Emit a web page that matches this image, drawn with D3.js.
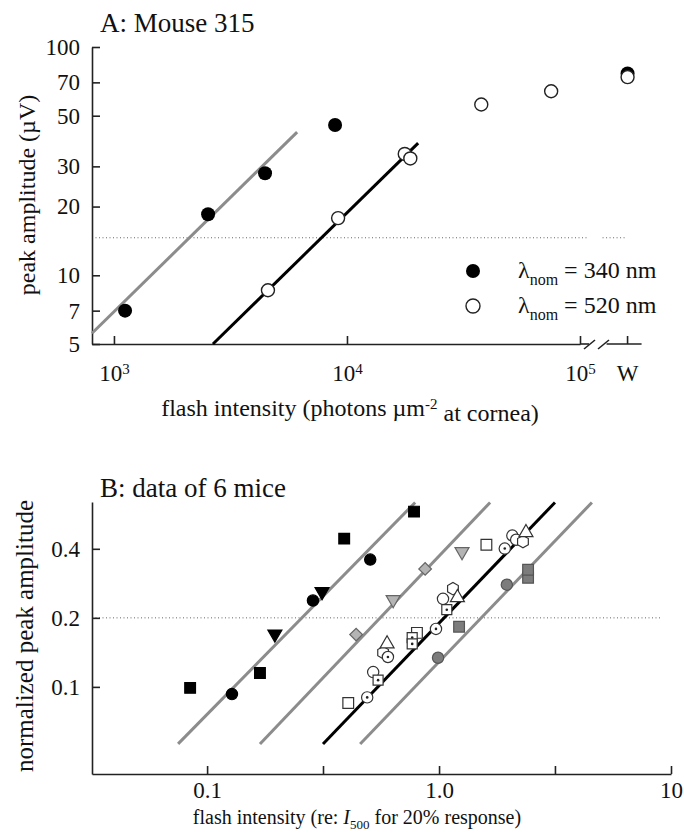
<!DOCTYPE html>
<html><head><meta charset="utf-8">
<script src="https://cdn.jsdelivr.net/npm/d3@7/dist/d3.min.js"></script>
<style>
body { margin: 0; background: #fff; }
svg text { font-family: "Liberation Serif", "Times New Roman", serif; fill: #111; }
</style></head>
<body>
<div id="chart"></div>
<script>
// ---- panel A: Mouse 315 ----
const aYTicks = [5, 7, 10, 20, 30, 50, 70, 100];
const aXTicks = [1e3, 1e4, 1e5];
const aXLabels = ['3', '4', '5'];           // exponents of 10
const uv340 = [[1116, 7.0], [2535, 18.5], [4450, 28.0], [8890, 45.5]];
const vis520 = [[4580, 8.6], [9160, 17.8], [17700, 34.0], [18700, 32.5], [37700, 56], [75200, 64]];
const white340 = 76.5;   // response to white flash (W)
const white520 = 73.8;
const wPos = 1.6e5;      // where "W" sits on the axis
const fit340 = [[805, 5.57], [6110, 42.4]];
const fit520 = [[2660, 5.0], [20200, 37.9]];
const criterionA = 14.6;
const legendA = ['340', '520'];

// ---- panel B: data of 6 mice ----
const bYTicks = [0.1, 0.2, 0.4];
const bXTicks = [0.1, 0.316, 1, 3.16, 10];
const bXLabels = ['0.1', '', '1.0', '', '10'];
const criterionB = 0.2;
const fitB = [
  [[0.075, 0.0564], [0.789, 0.637]],
  [[0.169, 0.0564], [1.66, 0.637]],
  [[0.316, 0.0564], [3.16, 0.637]],
  [[0.457, 0.0564], [4.56, 0.637]]
];
const fitBColor = ['#8c8c8c', '#8c8c8c', '#000', '#8c8c8c'];
const ptsBlack = [
  ['square', 0.0845, 0.099], ['circle', 0.128, 0.093], ['square', 0.169, 0.115],
  ['tridown', 0.196, 0.170], ['circle', 0.286, 0.238], ['tridown', 0.313, 0.260],
  ['circle', 0.505, 0.359], ['square', 0.39, 0.443], ['square', 0.78, 0.581]
];
const ptsLight = [
  ['diamond', 0.439, 0.169], ['tridown', 0.634, 0.240], ['diamond', 0.871, 0.327], ['tridown', 1.256, 0.389]
];
const ptsOpen = [
  ['square', 0.406, 0.085], ['circle', 0.52, 0.116], ['dotcircle', 0.49, 0.090], ['dotsquare', 0.546, 0.107],
  ['hexagon', 0.574, 0.141], ['triangle', 0.597, 0.154], ['dotcircle', 0.602, 0.135],
  ['square', 0.803, 0.172], ['dotsquare', 0.766, 0.164], ['dotsquare', 0.766, 0.154],
  ['dotcircle', 0.97, 0.179], ['circle', 1.04, 0.242], ['hexagon', 1.148, 0.268],
  ['triangle', 1.20, 0.245], ['dotsquare', 1.08, 0.217], ['square', 1.60, 0.417],
  ['dotcircle', 1.92, 0.401], ['circle', 2.07, 0.457], ['circle', 2.15, 0.438],
  ['hexagon', 2.30, 0.43], ['triangle', 2.37, 0.471]
];
const ptsDark = [
  ['circle', 0.99, 0.134], ['square', 1.22, 0.183], ['circle', 1.96, 0.279],
  ['square', 2.42, 0.299], ['square', 2.42, 0.324]
];

const svg = d3.select('#chart').append('svg')
  .attr('width', 684)
  .attr('height', 835);

// scales
const xA = d3.scaleLog().domain([805, 1e5]).range([92, 580]);
const yA = d3.scaleLog().domain([5, 100]).range([344, 47]);
const xB = d3.scaleLog().domain([0.0319, 10]).range([92, 671]);
const yB = d3.scaleLog().domain([0.0417, 0.64]).range([774, 502]);

const line = (sx, sy) => d3.line().x(d => sx(d[0])).y(d => sy(d[1]));

function styleAxis(g, size) {
  g.select('.domain').attr('stroke', '#222').attr('stroke-width', 1.6);
  g.selectAll('.tick line').attr('stroke', '#222').attr('stroke-width', 1.6);
  g.selectAll('.tick text')
    .style('font-family', '"Liberation Serif", serif')
    .style('font-size', size + 'px')
    .attr('fill', '#111');
}

// ================= panel A =================
svg.append('text').attr('x', 100).attr('y', 32).style('font-size', '27px').text('A: Mouse 315');

// criterion line
svg.append('path')
  .attr('d', line(xA, yA)([[xA.domain()[0], criterionA], [1.07e5, criterionA]]))
  .attr('stroke', '#666').attr('stroke-width', 1).attr('stroke-dasharray', '1,2.5');
svg.append('line')
  .attr('x1', xA(wPos) - 25).attr('x2', xA(wPos) - 3)
  .attr('y1', yA(criterionA)).attr('y2', yA(criterionA))
  .attr('stroke', '#666').attr('stroke-width', 1).attr('stroke-dasharray', '1,2.5');

const axAY = svg.append('g').attr('transform', 'translate(92,0)')
  .call(d3.axisLeft(yA).tickValues(aYTicks).tickFormat(d3.format('d')).tickSize(-8).tickSizeOuter(0).tickPadding(12));
styleAxis(axAY, 23);

const axAX = svg.append('g').attr('transform', 'translate(0,344)')
  .call(d3.axisBottom(xA).tickValues(aXTicks).tickSize(-8).tickSizeOuter(0).tickPadding(21));
styleAxis(axAX, 23);
axAX.selectAll('.tick text').each(function (d, i) {
  const t = d3.select(this).text('');
  t.append('tspan').text('10');
  t.append('tspan').attr('dy', '-0.5em').style('font-size', '15px').text(aXLabels[i]);
});

// axis continuation past the break, and the W tick
const axY0 = yA.range()[0];
svg.append('line').attr('x1', xA(1e5)).attr('x2', xA(1e5) + 9).attr('y1', axY0).attr('y2', axY0)
  .attr('stroke', '#222').attr('stroke-width', 1.6);
svg.append('line').attr('x1', xA(wPos) - 21).attr('x2', xA(wPos) + 14).attr('y1', axY0).attr('y2', axY0)
  .attr('stroke', '#222').attr('stroke-width', 1.6);
svg.append('line').attr('x1', xA(wPos)).attr('x2', xA(wPos)).attr('y1', axY0).attr('y2', axY0 - 8)
  .attr('stroke', '#222').attr('stroke-width', 1.6);
[[4, 15], [18, 29]].forEach(([a, b]) => {
  svg.append('line')
    .attr('x1', xA(1e5) + a).attr('y1', axY0 + 5)
    .attr('x2', xA(1e5) + b).attr('y2', axY0 - 4)
    .attr('stroke', '#222').attr('stroke-width', 1.6);
});
svg.append('text').attr('x', xA(wPos)).attr('y', 381).attr('text-anchor', 'middle')
  .style('font-size', '23px').text('W');

// axis titles
svg.append('text').attr('x', 350).attr('y', 416).attr('text-anchor', 'middle').style('font-size', '24px')
  .call(t => {
    t.append('tspan').text('flash intensity (photons \u00b5m');
    t.append('tspan').attr('dy', '-0.5em').style('font-size', '15px').text('-2');
    t.append('tspan').attr('dy', '0.5em').text(' at cornea)');
  });
svg.append('text').attr('transform', 'translate(35,195) rotate(-90)').attr('text-anchor', 'middle')
  .style('font-size', '24px').text('peak amplitude (\u00b5V)');

// fitted lines
svg.append('path').attr('d', line(xA, yA)(fit340)).attr('stroke', '#8c8c8c').attr('stroke-width', 3).attr('fill', 'none');
svg.append('path').attr('d', line(xA, yA)(fit520)).attr('stroke', '#000').attr('stroke-width', 3).attr('fill', 'none');

// points
svg.selectAll('.p340').data(uv340).join('circle').attr('class', 'p340')
  .attr('cx', d => xA(d[0])).attr('cy', d => yA(d[1])).attr('r', 7).attr('fill', '#000');
svg.append('circle').attr('cx', xA(wPos)).attr('cy', yA(white340)).attr('r', 7).attr('fill', '#000');
svg.selectAll('.p520').data(vis520).join('circle').attr('class', 'p520')
  .attr('cx', d => xA(d[0])).attr('cy', d => yA(d[1])).attr('r', 6.5)
  .attr('fill', '#fff').attr('stroke', '#222').attr('stroke-width', 1.4);
svg.append('circle').attr('cx', xA(wPos)).attr('cy', yA(white520)).attr('r', 6.5)
  .attr('fill', '#fff').attr('stroke', '#222').attr('stroke-width', 1.4);

// legend
const leg = svg.append('g').attr('transform', 'translate(473,271)');
legendA.forEach((nm, i) => {
  const row = leg.append('g').attr('transform', `translate(0,${i * 35})`);
  row.append('circle').attr('r', 7).attr('fill', i ? '#fff' : '#000').attr('stroke', '#222').attr('stroke-width', i ? 1.4 : 0);
  const t = row.append('text').attr('x', 45).attr('y', 7).style('font-size', '24px');
  t.append('tspan').text('\u03bb');
  t.append('tspan').attr('dy', 7).style('font-size', '16px').text('nom');
  t.append('tspan').attr('dy', -7).text(` = ${nm} nm`);
});

// ================= panel B =================
svg.append('text').attr('x', 100).attr('y', 497).style('font-size', '27px').text('B: data of 6 mice');

svg.append('path')
  .attr('d', line(xB, yB)([[xB.domain()[0], criterionB], [8.98, criterionB]]))
  .attr('stroke', '#666').attr('stroke-width', 1).attr('stroke-dasharray', '1,2.5');

const axBY = svg.append('g').attr('transform', 'translate(92,0)')
  .call(d3.axisLeft(yB).tickValues(bYTicks).tickFormat(d3.format('.1f')).tickSize(-8).tickSizeOuter(0).tickPadding(12));
styleAxis(axBY, 23);
const axBX = svg.append('g').attr('transform', 'translate(0,774)')
  .call(d3.axisBottom(xB).tickValues(bXTicks).tickFormat((d, i) => bXLabels[i]).tickSize(-8).tickSizeOuter(0).tickPadding(8));
styleAxis(axBX, 23);

svg.append('text').attr('x', 357).attr('y', 824).attr('text-anchor', 'middle').style('font-size', '20px')
  .call(t => {
    t.append('tspan').text('flash intensity (re: ');
    t.append('tspan').style('font-style', 'italic').text('I');
    t.append('tspan').attr('dy', 5).style('font-size', '13px').text('500');
    t.append('tspan').attr('dy', -5).text(' for 20% response)');
  });
svg.append('text').attr('transform', 'translate(33,636) rotate(-90)').attr('text-anchor', 'middle')
  .style('font-size', '25px').text('normalized peak amplitude');

svg.selectAll('.fitB').data(fitB).join('path').attr('class', 'fitB')
  .attr('d', d => line(xB, yB)(d)).attr('fill', 'none')
  .attr('stroke', (d, i) => fitBColor[i]).attr('stroke-width', 3);

// marker shapes
const hexagon = {
  draw(ctx, size) {
    const r = Math.sqrt(size / 2.598);
    for (let k = 0; k < 6; k++) {
      const a = Math.PI / 3 * k + Math.PI / 6;
      k ? ctx.lineTo(r * Math.cos(a), r * Math.sin(a)) : ctx.moveTo(r * Math.cos(a), r * Math.sin(a));
    }
    ctx.closePath();
  }
};
const shapeType = {
  circle: [d3.symbolCircle, 100], dotcircle: [d3.symbolCircle, 100],
  square: [d3.symbolSquare, 115], dotsquare: [d3.symbolSquare, 100],
  triangle: [d3.symbolTriangle, 85], tridown: [d3.symbolTriangle, 85],
  diamond: [d3.symbolSquare, 80], hexagon: [hexagon, 100]
};
function drawPts(data, fill, stroke) {
  const g = svg.append('g');
  data.forEach(([shape, x, y]) => {
    const [type, size] = shapeType[shape];
    const rot = shape === 'tridown' ? 180 : shape === 'diamond' ? 45 : 0;
    g.append('path')
      .attr('d', d3.symbol().type(type).size(size)())
      .attr('transform', `translate(${xB(x)},${yB(y)}) rotate(${rot})`)
      .attr('fill', fill).attr('stroke', stroke).attr('stroke-width', 1.2);
    if (shape === 'dotcircle' || shape === 'dotsquare') {
      g.append('circle').attr('cx', xB(x)).attr('cy', yB(y)).attr('r', 1.3).attr('fill', '#222');
    }
  });
}
drawPts(ptsBlack, '#000', '#000');
drawPts(ptsLight, '#b4b4b4', '#666');
drawPts(ptsOpen, '#fff', '#333');
drawPts(ptsDark, '#7c7c7c', '#555');
</script>
</body></html>
